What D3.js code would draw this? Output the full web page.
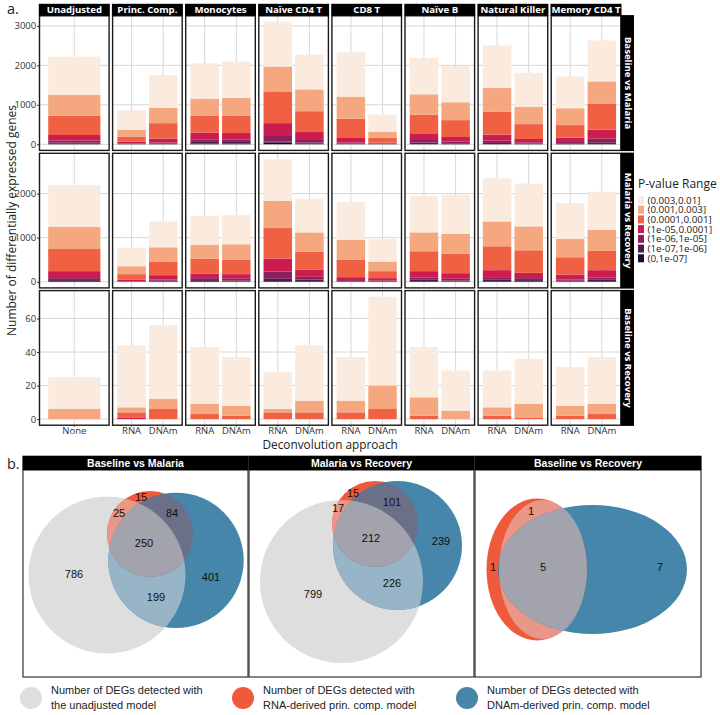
<!DOCTYPE html>
<html>
<head>
<meta charset="utf-8">
<script src="https://cdn.jsdelivr.net/npm/d3@7"></script>
<style>
  body { margin: 0; background: #fff; }
  svg { display: block; }
</style>
</head>
<body>
<script>
// ---------------- DATA ----------------
const cellTypes = ["Unadjusted", "Princ. Comp.", "Monocytes", "Naïve CD4 T", "CD8 T", "Naïve B", "Natural Killer", "Memory CD4 T"];
const approaches = ["RNA", "DNAm"];
const unadjustedApproach = ["None"];
const comparisons = ["Baseline vs Malaria", "Malaria vs Recovery", "Baseline vs Recovery"];
const pRanges = ["(0,1e-07]", "(1e-07,1e-06]", "(1e-06,1e-05]", "(1e-05,0.0001]", "(0.0001,0.001]", "(0.001,0.003]", "(0.003,0.01]"];

// counts per bar (None, then RNA/DNAm for each cell type), bins in pRanges order
const baselineVsMalaria = [
  [15, 25, 55, 140, 486, 536, 964],
  [5, 7, 13, 42, 126, 176, 494],
  [8, 12, 25, 97, 394, 386, 830],
  [17, 43, 66, 167, 436, 428, 897],
  [17, 42, 67, 159, 444, 445, 922],
  [40, 27, 143, 326, 805, 629, 1131],
  [17, 25, 67, 201, 528, 553, 881],
  [5, 12, 25, 117, 486, 562, 1123],
  [4, 6, 10, 22, 126, 151, 435],
  [8, 34, 67, 151, 494, 512, 922],
  [8, 17, 42, 117, 428, 453, 913],
  [8, 26, 58, 151, 587, 595, 1081],
  [8, 9, 33, 84, 377, 436, 864],
  [8, 17, 34, 109, 318, 428, 804],
  [8, 42, 92, 227, 654, 570, 1039]
];
const malariaVsRecovery = [
  [15, 23, 45, 158, 503, 504, 947],
  [3, 5, 7, 30, 128, 180, 421],
  [8, 15, 30, 97, 301, 331, 586],
  [15, 23, 45, 97, 346, 309, 661],
  [8, 22, 38, 105, 331, 346, 669],
  [15, 53, 165, 293, 692, 617, 939],
  [15, 38, 60, 165, 406, 436, 760],
  [8, 7, 23, 67, 399, 443, 858],
  [8, 7, 15, 53, 158, 218, 511],
  [15, 30, 53, 143, 451, 428, 827],
  [8, 22, 38, 127, 444, 451, 880],
  [15, 30, 60, 158, 542, 563, 978],
  [15, 23, 45, 120, 511, 542, 970],
  [8, 15, 30, 112, 391, 414, 812],
  [15, 30, 53, 165, 436, 481, 858]
];
const baselineVsRecovery = [
  [0, 0, 0, 0, 0, 6, 19],
  [0, 0, 0, 1, 3, 3, 37],
  [0, 0, 0, 0, 6, 6, 44],
  [0, 0, 0, 0, 3, 6, 34],
  [0, 0, 0, 0, 2, 6, 29],
  [0, 0, 0, 0, 4, 2, 22],
  [0, 0, 0, 0, 4, 7, 33],
  [0, 0, 0, 0, 4, 7, 26],
  [0, 0, 0, 0, 6, 14, 53],
  [0, 0, 0, 0, 2, 11, 30],
  [0, 0, 0, 0, 0, 5, 24],
  [0, 0, 0, 0, 2, 5, 22],
  [0, 0, 0, 0, 1, 8, 27],
  [0, 0, 0, 0, 2, 6, 23],
  [0, 0, 0, 0, 3, 6, 28]
];
const yTicksBvM = [0, 1000, 2000, 3000];
const yTicksMvR = [0, 1000, 2000];
const yTicksBvR = [0, 20, 40, 60];

// Venn counts: regions labelled per panel
const vennBvM = [{t: "15"}, {t: "25"}, {t: "84"}, {t: "250"}, {t: "786"}, {t: "401"}, {t: "199"}];
const vennMvR = [{t: "15"}, {t: "17"}, {t: "101"}, {t: "212"}, {t: "239"}, {t: "226"}, {t: "799"}];
const vennBvR = [{t: "1"}, {t: "1"}, {t: "5"}, {t: "7"}];
const vennLegend = [
  ["Number of DEGs detected with", "the unadjusted model"],
  ["Number of DEGs detected with", "RNA-derived prin. comp. model"],
  ["Number of DEGs detected with", "DNAm-derived prin. comp. model"]
];

// ---------------- STYLE / LAYOUT ----------------
const pColors = ["#160e27", "#4b1d4b", "#8c1f5f", "#cb1b4f", "#f06144", "#f5a780", "#fbeade"];
const vennCol = {
  grey: "#dedede", red: "#f05a3c", blue: "#4586aa",
  redGrey: "#e89788", blueGrey: "#97b5c7", redBlue: "#6a7088", all: "#a3a3ad"
};
const FONT = "'Open Sans', 'Noto Sans', sans-serif";
const ARIAL = "'Liberation Sans', Arial, sans-serif";

const svg = d3.select("body").append("svg").attr("width", 720).attr("height", 715);

// ---------------- PART A ----------------
const rowsData = [baselineVsMalaria, malariaVsRecovery, baselineVsRecovery];
const rowTicks = [yTicksBvM, yTicksMvR, yTicksBvR];
const panelLeft0 = 39.5, panelStep = 73.1, panelW = 69.6;
const rowTop = [15.8, 153.3, 290.6], panelH = 134.6;

svg.append("text").attr("x", 7).attr("y", 14).attr("font-family", FONT).attr("font-size", 14.5)
  .attr("fill", "#222").text("a.");

rowsData.forEach((rows, r) => {
  const totals = rows.map(d => d3.sum(d));
  const maxT = d3.max(totals);
  const top = rowTop[r], bottom = top + panelH;
  const y = d3.scaleLinear().domain([-0.05 * maxT, 1.05 * maxT]).range([bottom, top]);

  cellTypes.forEach((ct, c) => {
    const cats = c === 0 ? unadjustedApproach : approaches;
    const barRows = c === 0 ? [rows[0]] : [rows[2 * c - 1], rows[2 * c]];
    const px = panelLeft0 + c * panelStep;
    const x = d3.scaleBand().domain(cats).range([px, px + panelW]).paddingInner(0.1).paddingOuter(0.15);
    const objs = barRows.map((b, i) => {
      const o = {cat: cats[i]};
      pRanges.forEach((k, j) => o[k] = b[j]);
      return o;
    });
    const series = d3.stack().keys(pRanges)(objs);

    const g = svg.append("g");
    g.append("rect").attr("x", px).attr("y", top).attr("width", panelW).attr("height", panelH).attr("fill", "#fff");
    // grid
    g.selectAll(".hg").data(rowTicks[r]).join("line")
      .attr("x1", px).attr("x2", px + panelW).attr("y1", d => y(d)).attr("y2", d => y(d))
      .attr("stroke", "#d7d7d7").attr("stroke-width", 1);
    g.selectAll(".vg").data(cats).join("line")
      .attr("x1", d => x(d) + x.bandwidth() / 2).attr("x2", d => x(d) + x.bandwidth() / 2)
      .attr("y1", top).attr("y2", bottom).attr("stroke", "#d7d7d7").attr("stroke-width", 1);
    // bars
    series.forEach((s, si) => {
      g.selectAll(null).data(s).join("rect")
        .attr("x", d => x(d.data.cat)).attr("width", x.bandwidth())
        .attr("y", d => y(d[1])).attr("height", d => Math.max(0, y(d[0]) - y(d[1])))
        .attr("fill", pColors[si]);
    });
    // border
    g.append("rect").attr("x", px).attr("y", top).attr("width", panelW).attr("height", panelH)
      .attr("fill", "none").attr("stroke", "#1a1a1a").attr("stroke-width", 1.4);

    // top strip
    if (r === 0) {
      svg.append("rect").attr("x", px - 0.7).attr("y", 3.8).attr("width", panelW + 1.4).attr("height", 12).attr("fill", "#000");
      svg.append("text").attr("x", px + panelW / 2).attr("y", 13.2).attr("text-anchor", "middle")
        .attr("font-family", FONT).attr("font-weight", "bold").attr("font-size", 9.6).attr("fill", "#fff").text(ct);
    }
    // y axis
    if (c === 0) {
      const ax = svg.append("g").attr("transform", `translate(${px},0)`)
        .call(d3.axisLeft(y).tickValues(rowTicks[r]).tickFormat(d3.format("d")).tickSize(2.5).tickPadding(0.8));
      ax.select(".domain").remove();
      ax.selectAll("line").attr("stroke", "#333");
      ax.selectAll("text").attr("font-family", FONT).attr("font-size", 9.5).attr("fill", "#333");
    }
    // x axis
    if (r === 2) {
      const ax = svg.append("g").attr("transform", `translate(0,${bottom})`)
        .call(d3.axisBottom(x).tickSize(1.6).tickPadding(0));
      ax.select(".domain").remove();
      ax.selectAll("line").attr("stroke", "#333");
      ax.selectAll("text").attr("font-family", FONT).attr("font-size", 9.5).attr("fill", "#333");
    }
  });

  // right strip
  const sx = panelLeft0 + 8 * panelStep - 3.5 + 0.7;
  svg.append("rect").attr("x", sx - 0.5).attr("y", top - 0.7).attr("width", 13).attr("height", panelH + 1.4).attr("fill", "#000");
  svg.append("text").attr("transform", `translate(${sx + 3.2},${top + panelH / 2}) rotate(90)`)
    .attr("text-anchor", "middle").attr("font-family", FONT).attr("font-weight", "bold")
    .attr("font-size", 9.6).attr("fill", "#fff").text(comparisons[r]);
});

// axis titles
svg.append("text").attr("x", panelLeft0 + (8 * panelStep - 3.5) / 2).attr("y", 448.8).attr("text-anchor", "middle")
  .attr("font-family", FONT).attr("font-size", 11.8).attr("fill", "#222").text("Deconvolution approach");
svg.append("text").attr("transform", `translate(15.5,${rowTop[0] + (rowTop[2] + panelH - rowTop[0]) / 2}) rotate(-90)`)
  .attr("text-anchor", "middle").attr("font-family", FONT).attr("font-size", 12).attr("fill", "#222")
  .text("Number of differentially expressed genes");

// legend
const lg = svg.append("g").attr("transform", "translate(638,0)");
lg.append("text").attr("x", 0).attr("y", 188).attr("font-family", FONT).attr("font-size", 12).attr("fill", "#222").text("P-value Range");
const legendOrder = pRanges.slice().reverse();
const legendColors = pColors.slice().reverse();
const ly = d3.scalePoint().domain(legendOrder).range([200, 258.3]);
lg.selectAll(".k").data(legendOrder).join("rect")
  .attr("x", 0).attr("y", d => ly(d) - 4).attr("width", 6).attr("height", 8)
  .attr("fill", (d, i) => legendColors[i]);
lg.append("text").attr("font-family", FONT).attr("font-size", 9.8).attr("fill", "#222")
  .selectAll("tspan").data(legendOrder).join("tspan")
  .attr("x", 9.5).attr("y", d => ly(d) + 3.5).text(d => d);

// ---------------- PART B ----------------
svg.append("text").attr("x", 7).attr("y", 469).attr("font-family", FONT).attr("font-size", 14.5)
  .attr("fill", "#222").text("b.");

const vTop = 470, vH = 207;
const vennPanels = [
  {x0: 23, w: 225, title: comparisons[0], labels: vennBvM,
   shapes: {grey: [84, 105, 78.5, 78.5], red: [127, 64, 43, 43], blue: [153, 90.4, 67.7, 67.7]},
   pos: [[118, 27], [96, 43], [149, 43], [121, 73], [51, 104], [188, 107], [133, 127]]},
  {x0: 249, w: 225, title: comparisons[1], labels: vennMvR,
   shapes: {grey: [92.5, 111.5, 81.5, 81.5], red: [126, 54, 43, 43], blue: [148.5, 75.5, 64.5, 64.5]},
   pos: [[104, 23], [89, 38], [143, 32], [122, 68], [192, 71], [143, 113], [64, 124]]},
  {x0: 475, w: 226, title: comparisons[2], labels: vennBvR,
   shapes: {grey: [68, 99.5, 44, 69.5], red: [62, 99.5, 50.5, 71], blue: [117.5, 99.5, 94.5, 64.5]},
   pos: [[56, 41], [18, 97], [68, 97], [185, 97]]}
];
const defs = svg.append("defs");

vennPanels.forEach((p, i) => {
  const sxs = d3.scaleLinear().domain([0, p.w]).range([p.x0, p.x0 + p.w]);
  const sys = d3.scaleLinear().domain([0, vH]).range([vTop, vTop + vH]);
  const ell = (sel, s) => sel.attr("cx", sxs(s[0])).attr("cy", sys(s[1])).attr("rx", s[2]).attr("ry", s[3]);
  ["grey", "red", "blue"].forEach(k => {
    ell(defs.append("clipPath").attr("id", `c-${k}-${i}`).append("ellipse"), p.shapes[k]);
  });
  defs.append("clipPath").attr("id", `c-panel-${i}`).append("rect")
    .attr("x", p.x0).attr("y", vTop).attr("width", p.w).attr("height", vH);

  const g = svg.append("g").attr("clip-path", `url(#c-panel-${i})`);
  ell(g.append("ellipse"), p.shapes.grey).attr("fill", vennCol.grey);
  ell(g.append("ellipse"), p.shapes.red).attr("fill", vennCol.red);
  ell(g.append("ellipse"), p.shapes.blue).attr("fill", vennCol.blue);
  ell(g.append("g").attr("clip-path", `url(#c-grey-${i})`).append("ellipse"), p.shapes.red).attr("fill", vennCol.redGrey);
  ell(g.append("g").attr("clip-path", `url(#c-grey-${i})`).append("ellipse"), p.shapes.blue).attr("fill", vennCol.blueGrey);
  ell(g.append("g").attr("clip-path", `url(#c-blue-${i})`).append("ellipse"), p.shapes.red).attr("fill", vennCol.redBlue);
  ell(g.append("g").attr("clip-path", `url(#c-grey-${i})`).append("g").attr("clip-path", `url(#c-blue-${i})`).append("ellipse"),
    p.shapes.red).attr("fill", vennCol.all);

  g.selectAll("text").data(p.labels).join("text")
    .attr("x", (d, j) => sxs(p.pos[j][0])).attr("y", (d, j) => sys(p.pos[j][1]))
    .attr("text-anchor", "middle").attr("dominant-baseline", "central")
    .attr("font-family", ARIAL).attr("font-size", 11).attr("fill", "#111").text(d => d.t);

  svg.append("rect").attr("x", p.x0).attr("y", vTop).attr("width", p.w).attr("height", vH)
    .attr("fill", "none").attr("stroke", "#333").attr("stroke-width", 1.2);
  svg.append("rect").attr("x", p.x0 - 0.6).attr("y", 455.7).attr("width", p.w + 1.2).attr("height", 14.3).attr("fill", "#000");
  svg.append("text").attr("x", p.x0 + p.w / 2).attr("y", 466.5).attr("text-anchor", "middle")
    .attr("font-family", ARIAL).attr("font-weight", "bold").attr("font-size", 10.5).attr("fill", "#fff").text(p.title);
});

// bottom legend
const legCols = [vennCol.grey, vennCol.red, vennCol.blue];
const legX = [31, 243, 467];
vennLegend.forEach((lines, i) => {
  svg.append("circle").attr("cx", legX[i]).attr("cy", 698).attr("r", 11).attr("fill", legCols[i]);
  const t = svg.append("text").attr("font-family", ARIAL).attr("font-size", 11).attr("fill", "#222");
  lines.forEach((ln, j) => t.append("tspan").attr("x", legX[i] + 20).attr("y", 694 + j * 14.5).text(ln));
});
</script>
</body>
</html>
